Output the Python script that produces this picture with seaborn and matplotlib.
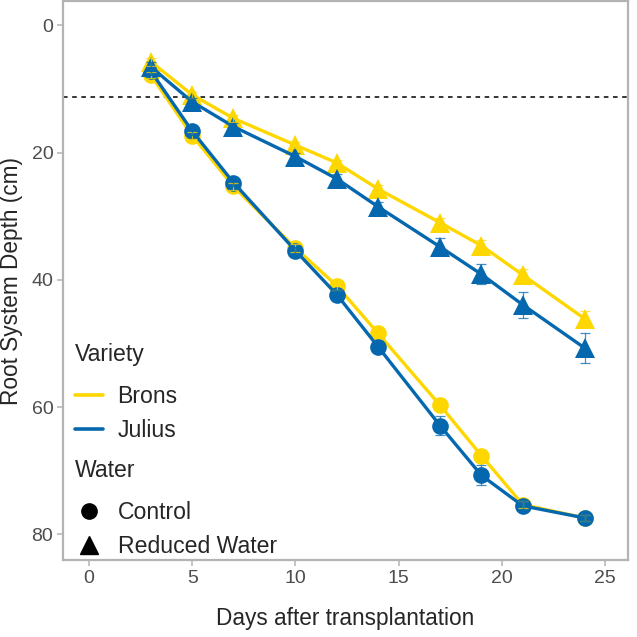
import pandas as pd
import matplotlib
matplotlib.use('Agg')
import matplotlib.pyplot as plt
from matplotlib.lines import Line2D
import seaborn as sns

# values
days = [3, 5, 7, 10, 12, 14, 17, 19, 21, 24]
brons_control = [7.8, 17.3, 25.3, 35.0, 40.9, 48.4, 59.7, 67.6, 75.3, 77.4]
julius_control = [7.2, 16.6, 24.7, 35.4, 42.3, 50.5, 62.9, 70.7, 75.5, 77.4]
brons_reduced = [5.7, 10.9, 14.6, 18.8, 21.6, 25.7, 31.0, 34.6, 39.2, 46.1]
julius_reduced = [6.5, 12.0, 15.9, 20.6, 24.1, 28.5, 34.8, 39.1, 43.9, 50.7]
brons_control_se = [0.5, 0.6, 0.5, 0.6, 0.6, 0.7, 0.8, 0.8, 0.6, 0.5]
julius_control_se = [0.6, 0.6, 0.5, 0.6, 0.8, 0.9, 1.5, 1.6, 0.7, 0.5]
brons_reduced_se = [0.6, 0.5, 0.5, 0.5, 0.5, 0.6, 0.8, 0.9, 1.0, 1.3]
julius_reduced_se = [0.7, 0.6, 0.6, 0.6, 0.7, 0.8, 1.35, 1.6, 2.0, 2.3]
threshold = 11.2

varieties = ['Brons', 'Julius']
waters = ['Control', 'Reduced Water']
colors = {'Brons': '#FFD700', 'Julius': '#0568AE'}
markers = {'Control': 'o', 'Reduced Water': '^'}
msize = {'Control': 12, 'Reduced Water': 14}

series = {
    ('Brons', 'Control'): (brons_control, brons_control_se),
    ('Julius', 'Control'): (julius_control, julius_control_se),
    ('Brons', 'Reduced Water'): (brons_reduced, brons_reduced_se),
    ('Julius', 'Reduced Water'): (julius_reduced, julius_reduced_se),
}
rows = []
for (var, wat), (vals, ses) in series.items():
    for d, v, s in zip(days, vals, ses):
        rows.append({'Days': d, 'Depth': v, 'se': s, 'Variety': var, 'Water': wat})
df = pd.DataFrame(rows)

sns.set_style('white')
plt.rcParams['font.family'] = ['Liberation Sans', 'DejaVu Sans']

fig = plt.figure(figsize=(6.37, 6.37), dpi=100)
ax = fig.add_axes([0.099, 0.121, 0.887, 0.877])

ax.axhline(threshold, color='black', linestyle=(0, (3, 3)), linewidth=1.1, zorder=1)

# one lineplot call per water treatment so the triangles can be drawn larger
for wat in waters:
    sns.lineplot(data=df[df['Water'] == wat], x='Days', y='Depth', hue='Variety',
                 hue_order=varieties, palette=colors, marker=markers[wat],
                 markersize=msize[wat], linewidth=2.4, markeredgewidth=0,
                 legend=False, ax=ax, zorder=3)

for var in varieties:
    for wat in waters:
        sub = df[(df['Variety'] == var) & (df['Water'] == wat)]
        ax.errorbar(sub['Days'], sub['Depth'], yerr=sub['se'], fmt='none',
                    ecolor=colors[var], elinewidth=0.9, capsize=3.8,
                    capthick=0.9, alpha=0.75, zorder=4)

ax.set_xlim(-1.25, 26.1)
ax.set_ylim(84, -3.8)
ax.set_xticks([0, 5, 10, 15, 20, 25])
ax.set_yticks([0, 20, 40, 60, 80])
ax.tick_params(axis='both', colors='#B3B3B3', labelcolor='#4D4D4D',
               labelsize=14, length=4, width=1.1, direction='out',
               bottom=True, left=True, pad=3)
for sp in ax.spines.values():
    sp.set_color('#B3B3B3')
    sp.set_linewidth(1.6)
ax.set_xlabel('Days after transplantation', fontsize=16.3, labelpad=15)
ax.set_ylabel('Root System Depth (cm)', fontsize=16.3, labelpad=6)

legend_kw = dict(loc='upper left', frameon=False, fontsize=16.6, title_fontsize=16.6,
                 handlelength=1.2, handletextpad=0.65, labelspacing=0.48,
                 borderpad=0, borderaxespad=0)

var_handles = [Line2D([], [], color=colors[v], linewidth=2.6) for v in varieties]
leg1 = ax.legend(var_handles, varieties, title='Variety',
                 bbox_to_anchor=(0.021, 0.388), **legend_kw)
leg1._legend_box.align = 'left'
leg1._legend_box.sep = 13.5
ax.add_artist(leg1)

wat_handles = [Line2D([], [], color='black', marker=markers[w], linestyle='none',
                      markersize=msize[w] - 1) for w in waters]
leg2 = ax.legend(wat_handles, waters, title='Water',
                 bbox_to_anchor=(0.021, 0.180), **legend_kw)
leg2._legend_box.align = 'left'
leg2._legend_box.sep = 13.5

fig.savefig('out.png', dpi=100)
